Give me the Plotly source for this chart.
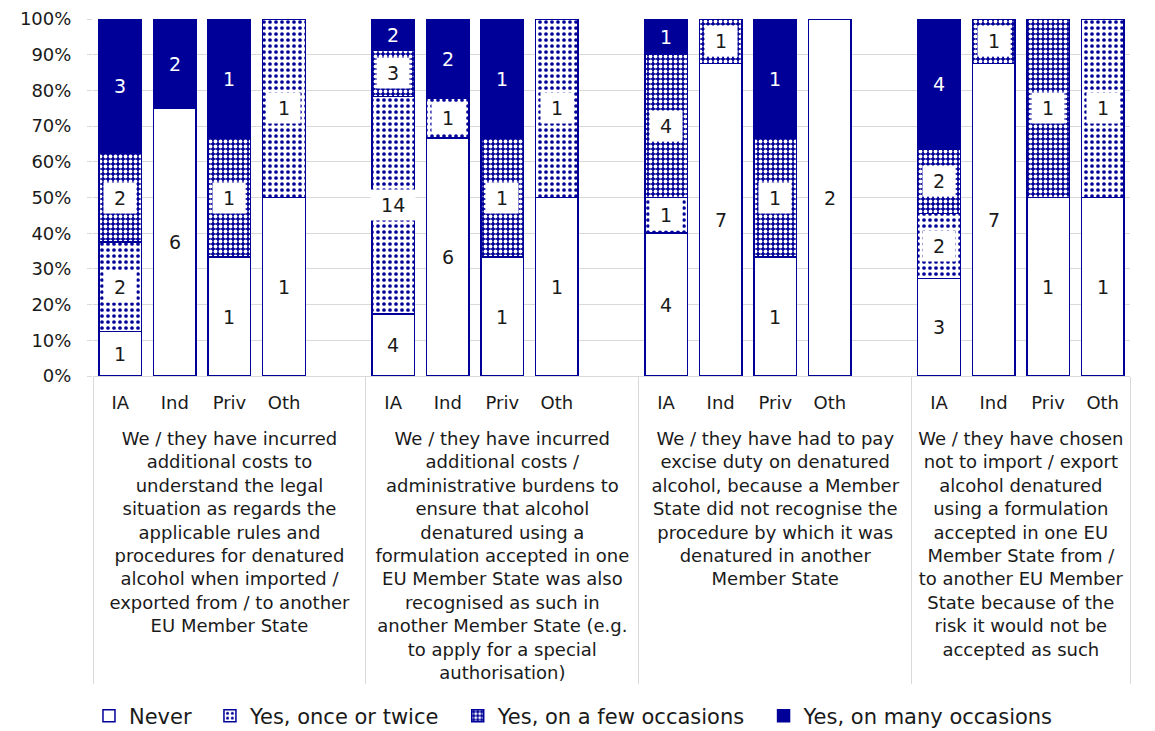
import plotly.graph_objects as go

# ---------------- data ----------------
groups = [
    "We / they have incurred<br>additional costs to<br>understand the legal<br>situation as regards the<br>applicable rules and<br>procedures for denatured<br>alcohol when imported /<br>exported from / to another<br>EU Member State",
    "We / they have incurred<br>additional costs /<br>administrative burdens to<br>ensure that alcohol<br>denatured using a<br>formulation accepted in one<br>EU Member State was also<br>recognised as such in<br>another Member State (e.g.<br>to apply for a special<br>authorisation)",
    "We / they have had to pay<br>excise duty on denatured<br>alcohol, because a Member<br>State did not recognise the<br>procedure by which it was<br>denatured in another<br>Member State",
    "We / they have chosen<br>not to import / export<br>alcohol denatured<br>using a formulation<br>accepted in one EU<br>Member State from /<br>to another EU Member<br>State because of the<br>risk it would not be<br>accepted as such",
]
types = ["IA", "Ind", "Priv", "Oth"]
series_names = ["Never", "Yes, once or twice", "Yes, on a few occasions", "Yes, on many occasions"]

never = [1, 6, 1, 1,   4, 6, 1, 1,   4, 7, 1, 2,   3, 7, 1, 1]
once  = [2, 0, 0, 1,  14, 1, 0, 1,   1, 0, 0, 0,   2, 0, 0, 1]
few   = [2, 0, 1, 0,   3, 0, 1, 0,   4, 1, 1, 0,   2, 1, 1, 0]
many  = [3, 2, 1, 0,   2, 2, 1, 0,   1, 0, 1, 0,   4, 0, 0, 0]
series_values = [never, once, few, many]

# ---------------- styles ----------------
NAVY = "#000099"
TEXT = "#1a1a1a"
GRID = "#d9d9d9"
FONT = "DejaVu Sans, Verdana, sans-serif"
NB = "\u00a0"

# build category slots (an empty slot closes each group except the last)
outer, inner, bar_idx = [], [], []
for gi, g in enumerate(groups):
    for ti, t in enumerate(types):
        outer.append("<br>" + g)
        inner.append(t)
        bar_idx.append(gi * len(types) + ti)
    if gi < len(groups) - 1:
        outer.append("<br>" + g)
        inner.append(" ")
        bar_idx.append(None)


def expand(vals):
    out = []
    for b in bar_idx:
        if b is None or vals[b] == 0:
            out.append(None)
        else:
            out.append(vals[b])
    return out


markers = [
    dict(color="white", line=dict(color=NAVY, width=1.5)),
    dict(color="white", line=dict(color=NAVY, width=1.5),
         pattern=dict(shape=".", fgcolor=NAVY, bgcolor="white", size=6, solidity=0.3, fillmode="replace")),
    dict(color=NAVY, line=dict(color=NAVY, width=1.5),
         pattern=dict(shape=".", fgcolor="white", bgcolor=NAVY, size=5, solidity=0.45, fillmode="replace")),
    dict(color=NAVY, line=dict(color=NAVY, width=1.5)),
]

fig = go.Figure()
for k, (name, vals, mk) in enumerate(zip(series_names, series_values, markers)):
    shown = name + (NB * 2 if k < len(series_names) - 1 else "")
    fig.add_trace(go.Bar(x=[outer, inner], y=expand(vals), name=shown, marker=mk,
                         hoverinfo="skip"))

# data labels
annotations = []
for slot, b in enumerate(bar_idx):
    if b is None:
        continue
    total = sum(s[b] for s in series_values)
    cum = 0
    for k, s in enumerate(series_values):
        v = s[b]
        if v > 0:
            yc = (cum + v / 2) / total * 100
            if k == 0:
                annotations.append(dict(x=slot, y=yc, xref="x", yref="y", text=str(v), showarrow=False,
                                        font=dict(family=FONT, size=19, color=TEXT)))
            elif k in (1, 2):
                annotations.append(dict(x=slot, y=yc, xref="x", yref="y", text=NB + str(v) + NB,
                                        showarrow=False, bgcolor="white", borderpad=4,
                                        font=dict(family=FONT, size=19, color=TEXT)))
            else:
                annotations.append(dict(x=slot, y=yc, xref="x", yref="y", text=str(v), showarrow=False,
                                        font=dict(family=FONT, size=19, color="white")))
        cum += v

fig.update_layout(
    width=1147, height=723,
    barmode="stack", barnorm="percent", bargap=0.22,
    margin=dict(l=85, r=25, t=11, b=355),
    plot_bgcolor="white", paper_bgcolor="white",
    font=dict(family=FONT, size=18, color=TEXT),
    xaxis=dict(type="multicategory", showdividers=True, dividercolor=GRID, dividerwidth=1,
               showline=True, linecolor=GRID, linewidth=1, showgrid=False, ticks="",
               ticklabelstandoff=10,
               tickfont=dict(family=FONT, size=18, color=TEXT), automargin=False),
    yaxis=dict(range=[0, 100], dtick=10, ticksuffix="%", showgrid=True, gridcolor=GRID,
               gridwidth=1, ticks="outside", ticklen=5, tickcolor=GRID, zeroline=False,
               showline=False, ticklabelstandoff=12,
               tickfont=dict(family=FONT, size=18, color=TEXT), automargin=False),
    legend=dict(orientation="h", xref="container", yref="container", x=0.0706, xanchor="left",
                y=0.0207, yanchor="middle",
                font=dict(family=FONT, size=21, color=TEXT), itemwidth=30, traceorder="normal"),
    annotations=annotations,
    showlegend=True,
)

fig.write_html("out.html")
